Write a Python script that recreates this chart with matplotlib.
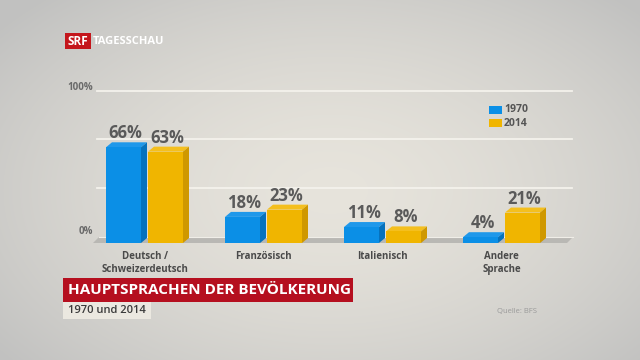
import numpy as np
import matplotlib
matplotlib.use("Agg")
import matplotlib.pyplot as plt
from matplotlib.patches import Polygon, Rectangle

plt.rcParams['font.family'] = ['Open Sans', 'DejaVu Sans']

# --- Daten ---
categories = ["Deutsch /\nSchweizerdeutsch", "Französisch", "Italienisch", "Andere\nSprache"]
years = ["1970", "2014"]
share_1970 = [66, 18, 11, 4]
share_2014 = [63, 23, 8, 21]
# Hilfslinien (so wie sie im Bild liegen, in Prozent-Einheiten der Balken)
gridlines = [37.9, 71.7, 104.8]

W, H = 640, 360
fig = plt.figure(figsize=(W / 100, H / 100), dpi=100)


def px(x, y):
    # Pixel (von oben links) -> Figurkoordinaten
    return x / W, 1 - y / H


# Hintergrund: weicher Verlauf mit Vignette
bg = fig.add_axes([0, 0, 1, 1])
bg.set_axis_off()
yy, xx = np.mgrid[0:H, 0:W]
r = np.sqrt(((xx - 330) / 420.0) ** 2 + ((yy - 190) / 260.0) ** 2)
r = np.clip(r, 0, 1)
c_in = np.array([0.905, 0.893, 0.862])
c_out = np.array([0.76, 0.76, 0.755])
img = c_in[None, None, :] * (1 - r[..., None] ** 1.6) + c_out[None, None, :] * (r[..., None] ** 1.6)
bg.imshow(img, extent=[0, 1, 0, 1], aspect="auto")
bg.set_xlim(0, 1)
bg.set_ylim(0, 1)

# Hauptachse: Boden bei y=243px, 1.45 px pro Prozentpunkt
x_left, x_right = 90, 575
y_floor = 243
ppu = 1.45
y_top = y_floor - 100 * ppu
ax = fig.add_axes([x_left / W, (H - y_floor) / H, (x_right - x_left) / W, (y_floor - y_top) / H])
ax.set_axis_off()
ax.patch.set_alpha(0)

spacing = 119.0
xmin = -(144.5 - x_left) / spacing
ax.set_xlim(xmin, xmin + (x_right - x_left) / spacing)
ax.set_ylim(0, 100)

bw = 35 / spacing
off = 21 / spacing
dx = 6 / spacing
dy = 5 / ppu

for g in gridlines:
    ax.plot([xmin + 7 / spacing, xmin + (572 - x_left) / spacing], [g, g],
            color="#f4f2ec", lw=1.3, zorder=1, clip_on=False)

# Boden
xl = xmin + 3 / spacing
xr = xmin + (567 - x_left) / spacing
fh = 6 / ppu
ax.add_patch(Polygon([(xl, 0), (xl + dx, fh), (xr + dx, fh), (xr, 0)],
                     closed=True, facecolor="#b9b8b4", edgecolor="none", zorder=2, clip_on=False))
ax.plot([xl + dx, xr + dx], [fh, fh], color="#f0eee8", lw=0.8, zorder=2, clip_on=False)

colors = {
    "1970": ("#0b8fe6", "#1f98ea", "#0672bd"),
    "2014": ("#f0b500", "#f4bf1e", "#cf9800"),
}

x = np.arange(len(categories))
for vals, year, sign in [(share_1970, "1970", -1), (share_2014, "2014", 1)]:
    front, top, side = colors[year]
    bars = ax.bar(x + sign * off, vals, width=bw, color=front, zorder=4, clip_on=False)
    for b, v in zip(bars, vals):
        x0 = b.get_x()
        x1 = x0 + b.get_width()
        ax.add_patch(Polygon([(x0, v), (x0 + dx, v + dy), (x1 + dx, v + dy), (x1, v)],
                             closed=True, facecolor=top, edgecolor="none", zorder=3, clip_on=False))
        ax.add_patch(Polygon([(x1, 0), (x1, v), (x1 + dx, v + dy), (x1 + dx, dy)],
                             closed=True, facecolor=side, edgecolor="none", zorder=3, clip_on=False))
        ax.text(x0 + b.get_width() / 2 + dx / 3, v + dy + 9 / ppu, f"{v}%", ha="center", va="center",
                fontsize=12, fontweight="bold", color="#5a5a5a", zorder=5, clip_on=False)

for xi, cat in zip(x, categories):
    ax.text(xi, -5.5, cat, ha="center", va="top", fontsize=7, fontweight="bold",
            color="#4a4a4a", linespacing=1.25, clip_on=False)

# Achsenbeschriftung
fig.text(*px(93, 88), "100%", ha="right", va="center", fontsize=7, fontweight="bold", color="#6a6a6a")
fig.text(*px(93, 232), "0%", ha="right", va="center", fontsize=7, fontweight="bold", color="#6a6a6a")

# Legende
for i, (year, c) in enumerate(zip(years, ["#0b8fe6", "#f0b500"])):
    y0 = 106 + i * 13
    fig.add_artist(Rectangle(px(489, y0 + 8), 13 / W, 8 / H, transform=fig.transFigure,
                             facecolor=c, edgecolor="none"))
    fig.text(*px(504, y0 + 4), year, ha="left", va="center", fontsize=7.5,
             fontweight="bold", color="#555555")

# SRF Logo
fig.add_artist(Rectangle(px(65, 49), 26 / W, 16 / H, transform=fig.transFigure,
                         facecolor="#c4161c", edgecolor="none"))
fig.text(*px(78, 41.5), "SRF", ha="center", va="center", fontsize=8.5, fontweight="bold", color="white")
fig.text(*px(93, 41.5), "TAGESSCHAU", ha="left", va="center", fontsize=8, fontweight="bold",
         color="white")

# Titel
fig.add_artist(Rectangle(px(63, 302), 290 / W, 24 / H, transform=fig.transFigure,
                         facecolor="#b50f1f", edgecolor="none"))
fig.text(*px(68, 290.5), "HAUPTSPRACHEN DER BEVÖLKERUNG", ha="left", va="center",
         fontsize=11, fontweight="bold", color="white")
fig.add_artist(Rectangle(px(63, 319), 88 / W, 17 / H, transform=fig.transFigure,
                         facecolor="#ebe8e0", edgecolor="none"))
fig.text(*px(68, 310.5), "1970 und 2014", ha="left", va="center", fontsize=8,
         fontweight="semibold", color="#3a3a3a")
fig.text(*px(537, 312), "Quelle: BFS", ha="right", va="center", fontsize=5.5, color="#9a9a9a")

fig.savefig("out.png", dpi=100)
